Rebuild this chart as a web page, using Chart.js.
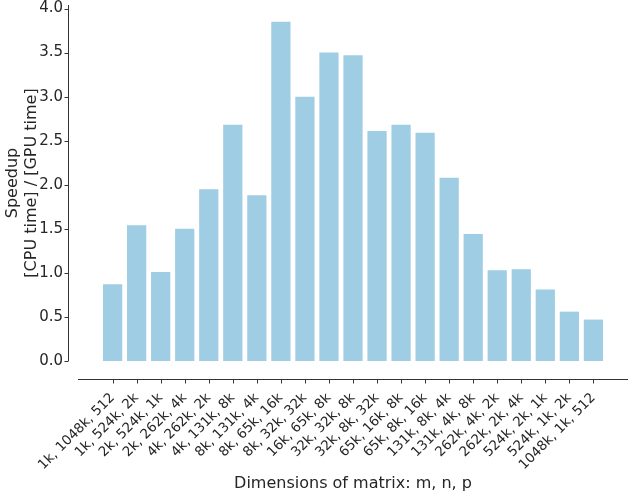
<!DOCTYPE html>
<html>
<head>
<meta charset="utf-8">
<script src="https://cdn.jsdelivr.net/npm/chart.js@4"></script>
<style>
  html, body { margin: 0; padding: 0; background: #fff; }
  #wrap { width: 633px; height: 497px; }
</style>
</head>
<body>
<div id="wrap"><canvas id="chart" width="633" height="497"></canvas></div>
<script>
// matrix shapes (m, n, p) and measured speedup
const dims = [
    '1k, 1048k, 512', '1k, 524k, 2k', '2k, 524k, 1k', '2k, 262k, 4k', '4k, 262k, 2k',
    '4k, 131k, 8k', '8k, 131k, 4k', '8k, 65k, 16k', '8k, 32k, 32k', '16k, 65k, 8k',
    '32k, 32k, 8k', '32k, 8k, 32k', '65k, 16k, 8k', '65k, 8k, 16k', '131k, 8k, 4k',
    '131k, 4k, 8k', '262k, 4k, 2k', '262k, 2k, 4k', '524k, 2k, 1k', '524k, 1k, 2k',
    '1048k, 1k, 512'
]
const speedup = [
    0.87, 1.54, 1.01, 1.50, 1.95, 2.68, 1.88, 3.85, 3.00, 3.50,
    3.47, 2.61, 2.68, 2.59, 2.08, 1.44, 1.03, 1.04, 0.81, 0.56, 0.47
]
const yTicks = [0, 0.5, 1, 1.5, 2, 2.5, 3, 3.5, 4]

const ink = '#262626'
const spineColor = '#333333'

// seaborn-style detached spines
const spines = {
    id: 'spines',
    afterDraw(chart) {
        const ctx = chart.ctx
        const area = chart.chartArea
        const xs = chart.scales.x
        const ys = chart.scales.y
        ctx.save()
        ctx.strokeStyle = spineColor
        ctx.lineWidth = 1
        ctx.beginPath()
        let sx = Math.round(area.left - 10) + 0.5
        ctx.moveTo(sx, area.top)
        ctx.lineTo(sx, area.bottom)
        ys.ticks.forEach(t => {
            let py = Math.round(ys.getPixelForValue(t.value)) + 0.5
            ctx.moveTo(sx, py)
            ctx.lineTo(sx - 4, py)
        })
        let sy = Math.round(area.bottom + 18) + 0.5
        ctx.moveTo(area.left, sy)
        ctx.lineTo(area.right, sy)
        xs.ticks.forEach(t => {
            let px = Math.round(xs.getPixelForValue(t.value)) + 0.5
            ctx.moveTo(px, sy)
            ctx.lineTo(px, sy + 4)
        })
        ctx.stroke()
        ctx.restore()
    }
}

Chart.defaults.font.family = "'DejaVu Sans', sans-serif"
Chart.defaults.color = ink

let ctx = document.getElementById('chart').getContext('2d')

let barChart = new Chart(ctx, {
    type: 'bar',
    data: {
        datasets: [{
            label: 'Speedup',
            data: speedup.map((v, i) => ({x: i, y: v})),
            backgroundColor: '#9fcde3',
            borderWidth: 0,
            barPercentage: 0.8,
            categoryPercentage: 1.0
        }]
    },
    options: {
        responsive: false,
        animation: false,
        events: [],
        layout: {
            padding: {left: 0, right: 5, top: 5, bottom: 0}
        },
        plugins: {
            legend: {display: false},
            tooltip: {enabled: false}
        },
        scales: {
            x: {
                type: 'linear',
                offset: false,
                min: -1.44,
                max: 21.44,
                grid: {display: false, drawTicks: false},
                border: {display: false},
                afterBuildTicks: scale => {
                    scale.ticks = dims.map((d, i) => ({value: i}))
                },
                afterFit: scale => {
                    scale.height = 136
                    scale.paddingLeft = 0
                    scale.paddingRight = 0
                },
                ticks: {
                    autoSkip: false,
                    minRotation: 45,
                    maxRotation: 45,
                    padding: 30,
                    font: {size: 13.5, lineHeight: 1},
                    callback: v => dims[v]
                },
                title: {
                    display: true,
                    text: 'Dimensions of matrix: m, n, p',
                    font: {size: 16},
                    padding: {top: 0, bottom: 4}
                }
            },
            y: {
                min: 0,
                max: 4.04,
                grid: {display: false, drawTicks: false},
                border: {display: false},
                afterBuildTicks: scale => {
                    scale.ticks = yTicks.map(v => ({value: v}))
                },
                afterFit: scale => {
                    scale.width = 78
                    scale.paddingTop = 0
                    scale.paddingBottom = 0
                },
                ticks: {
                    padding: 15,
                    font: {size: 15},
                    callback: v => v.toFixed(1)
                },
                title: {
                    display: true,
                    text: ['Speedup', '[CPU time] / [GPU time]'],
                    font: {size: 16},
                    padding: {top: 3, bottom: 0}
                }
            }
        }
    },
    plugins: [spines]
})
</script>
</body>
</html>
